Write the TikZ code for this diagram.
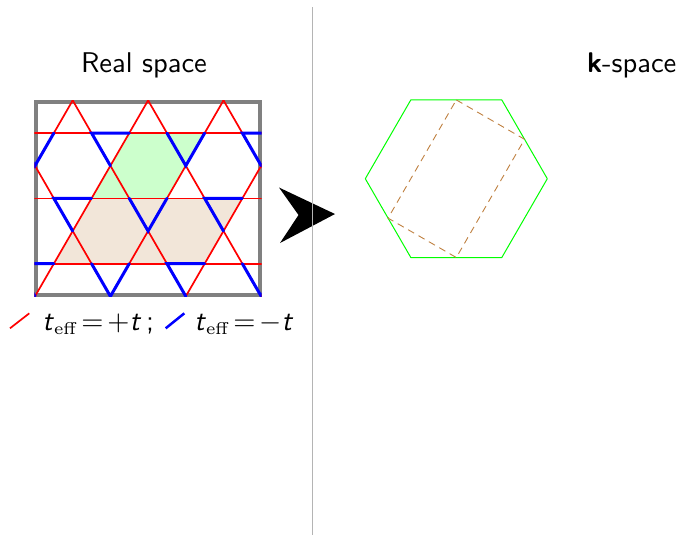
\documentclass[tikz,border=0pt]{standalone}
\usepackage{fontspec}
\definecolor{cellgreen}{RGB}{204,255,204}
\definecolor{celltan}{RGB}{242,230,217}
\definecolor{dashbrown}{RGB}{191,128,64}
\definecolor{sepgray}{RGB}{180,180,180}
\newlength\px
\setlength\px{0.35088pt}
\newcommand\effsub{_{\hbox{\fontsize{6}{7}\selectfont\rmfamily eff}}}
\begin{document}
\begin{tikzpicture}[x=0.35088pt,y=-0.35088pt,
  redbond/.style={red,line width=1.7\px},
  bluebond/.style={blue,line width=3\px,line cap=round},
  txt/.style={font=\fontsize{10}{12}\selectfont\sffamily,inner sep=0pt,text=black},
  bz/.style={green,line width=1\px,line join=round},
  mbz/.style={dashbrown,line width=0.9\px,dash pattern=on 7\px off 5\px}
]
\useasboundingbox (0,0) rectangle (680,535);

% ---------- titles ----------
\node[txt,anchor=base west] (real) at (80.5,72.3) {Real space};
\node[txt,anchor=base west] (kspace) at (586.5,72) {\textbf{k}-space};

% ---------- real-space lattice ----------
\fill[cellgreen] (129.25,133.05) -- (204.65,133.05) -- (166.95,198.35) -- (91.55,198.35) -- cycle;
\fill[celltan] (91.55,198.35) -- (242.35,198.35) -- (204.65,263.65) -- (53.85,263.65) -- cycle;
\draw[gray,line width=3.5\px] (36.1,102.2) rectangle (259.8,295);
\begin{scope}
  \clip (34.35,100.45) rectangle (261.55,296.75);
  % red: all lines of the kagome lattice
  \foreach \yy in {133.05,198.35,263.65}
    \draw[redbond] (20,\yy) -- (280,\yy);
  \foreach \k in {-3,...,4} {
    \draw[redbond] ({35+75.4*\k-94.25},{165.7-163.25}) -- ({35+75.4*\k+94.25},{165.7+163.25});
    \draw[redbond] ({35+75.4*\k-94.25},{165.7+163.25}) -- ({35+75.4*\k+94.25},{165.7-163.25});
  }
  % blue: bonds with t_eff = -t
  % row 1
  \draw[bluebond] (16.15,133.05) -- (35,165.7) -- (53.85,133.05);
  \draw[bluebond] (129.25,133.05) -- (91.55,133.05) -- (110.4,165.7);
  \draw[bluebond] (166.95,133.05) -- (185.8,165.7) -- (204.65,133.05);
  \draw[bluebond] (280.05,133.05) -- (242.35,133.05) -- (261.2,165.7);
  % row 2
  \draw[bluebond] (91.55,198.35) -- (53.85,198.35) -- (72.7,231);
  \draw[bluebond] (129.25,198.35) -- (148.1,231) -- (166.95,198.35);
  \draw[bluebond] (242.35,198.35) -- (204.65,198.35) -- (223.5,231);
  % row 3
  \draw[bluebond] (53.85,263.65) -- (16.15,263.65) -- (35,296.3);
  \draw[bluebond] (91.55,263.65) -- (110.4,296.3) -- (129.25,263.65);
  \draw[bluebond] (204.65,263.65) -- (166.95,263.65) -- (185.8,296.3);
  \draw[bluebond] (242.35,263.65) -- (261.2,296.3) -- (280.05,263.65);
\end{scope}

% ---------- legend ----------
\coordinate (r0) at (10,328.3);
\coordinate (r1) at (29.3,313.3);
\coordinate (b0) at (165.7,328.3);
\coordinate (b1) at (184.3,313.3);
\draw[red,line width=1.7\px] (r0) -- (r1);
\draw[blue,line width=2.5\px] (b0) -- (b1);
\node[txt,anchor=base west] (legplus) at (41.8,330.7)
  {\thickmuskip=2.5mu\textit{t}$\effsub=+$\textit{t}\,;};
\node[txt,anchor=base west] (legminus) at (193.8,330.7)
  {\thickmuskip=2.5mu\textit{t}$\effsub=-$\textit{t}};

% ---------- big arrow head ----------
\fill[black] (335,214) -- (279,187.5) -- (298.5,215) -- (280,243) -- cycle;

% ---------- separator ----------
\coordinate (sepTop) at (312.7,7.3);
\coordinate (sepBot) at (312.7,535);
\draw[sepgray,line width=1.4\px] (sepTop) -- (sepBot);

% ---------- k-space ----------
\coordinate (K) at (456.3,178.7);
\draw[bz] (547.3,178.7) -- (501.8,99.9) -- (410.8,99.9) -- (365.3,178.7) -- (410.8,257.5) -- (501.8,257.5) -- cycle;
\draw[mbz] (456.3,99.9) -- (524.55,139.3) -- (456.3,257.5) -- (388.05,218.1) -- cycle;
\end{tikzpicture}
\end{document}
